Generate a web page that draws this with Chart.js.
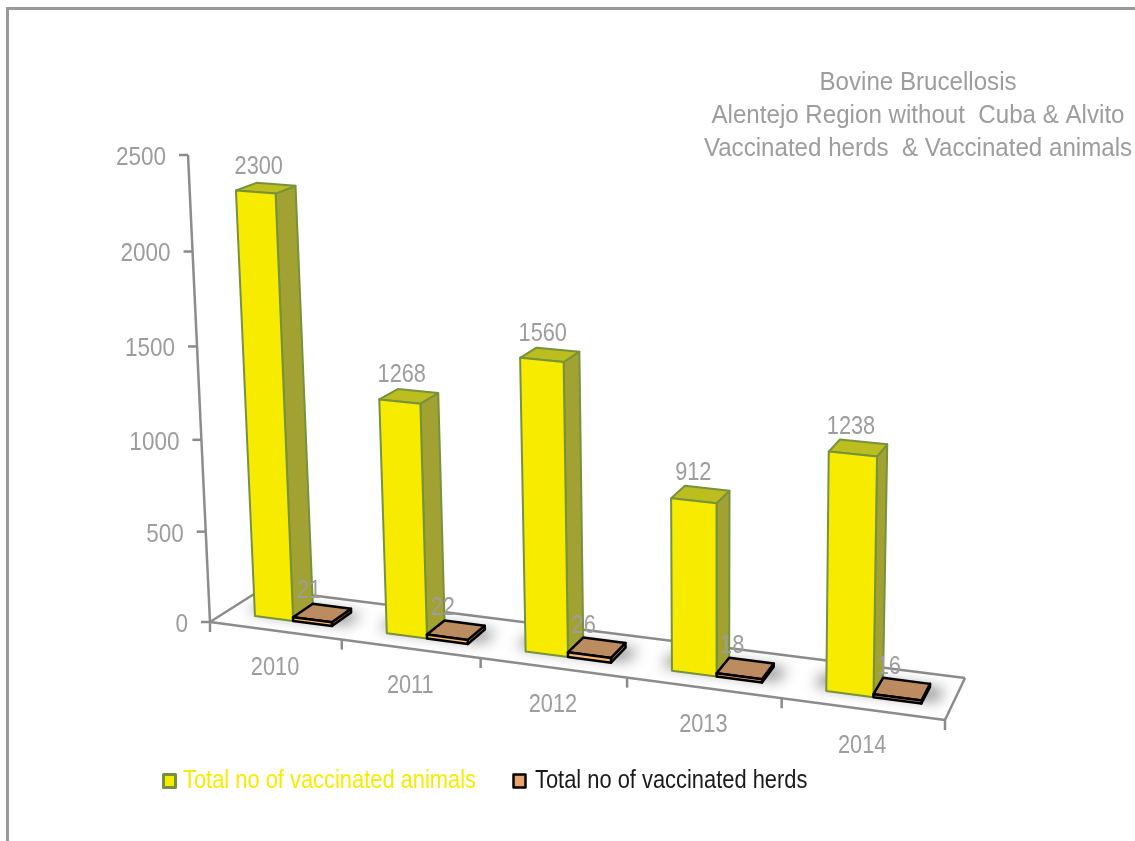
<!DOCTYPE html>
<html>
<head>
<meta charset="utf-8">
<script src="https://cdn.jsdelivr.net/npm/chart.js@4"></script>
<style>
  html, body { margin: 0; padding: 0; background: #fff; }
  canvas { display: block; }
</style>
</head>
<body>
<canvas id="main-chart" width="1135" height="841"></canvas>
<script>
const years = ['2010', '2011', '2012', '2013', '2014'];
const vaccinatedAnimals = [2300, 1268, 1560, 912, 1238];
const vaccinatedHerds = [21, 22, 26, 18, 16];
const seriesNames = ['Total no of vaccinated animals', 'Total no of vaccinated herds'];
const titleLines = ['Bovine Brucellosis', 'Alentejo Region without  Cuba & Alvito', 'Vaccinated herds  & Vaccinated animals'];

const GREY = '#9d9d9f';
const AXIS = '#8c8c8c';
const FONT = '25px "Liberation Sans", Arial, sans-serif';

const barStyles = [
  { front: '#f7ec00', side: '#a2a232', top: '#bcbd1f', line: '#76923c', width: 2 },
  { front: '#fbb971', side: '#b98a5f', top: '#bd8b60', line: '#000', width: 2.5 }
];

// corners of the tilted box: bottom left, bottom right, top right, top left
const frontPlane = [[210, 622], [945, 720], [955, 212], [188, 155]];
const backPlane = [[262, 589], [965, 678], [979, 190], [240, 137]];
const BAR_W0 = 0.3;
const BAR_W1 = 0.7;
const BAR_SHIFT = 0.005;
const X_WARP = 0.045;

function makeHomography(q) {
  const [p00, p10, p11, p01] = q;
  const dx1 = p10[0] - p11[0], dx2 = p01[0] - p11[0], sx = p00[0] - p10[0] + p11[0] - p01[0];
  const dy1 = p10[1] - p11[1], dy2 = p01[1] - p11[1], sy = p00[1] - p10[1] + p11[1] - p01[1];
  const den = dx1 * dy2 - dx2 * dy1;
  const g = (sx * dy2 - dx2 * sy) / den;
  const h = (dx1 * sy - sx * dy1) / den;
  const a = p10[0] - p00[0] + g * p10[0], b = p01[0] - p00[0] + h * p01[0];
  const d = p10[1] - p00[1] + g * p10[1], e = p01[1] - p00[1] + h * p01[1];
  return (s, t) => {
    const z = g * s + h * t + 1;
    return [(a * s + b * t + p00[0]) / z, (d * s + e * t + p00[1]) / z];
  };
}

const frontMap = makeHomography(frontPlane);
const backMap = makeHomography(backPlane);

function project(s, t, w) {
  const sw = s - X_WARP * s * (1 - s);
  const f = frontMap(sw, t), b = backMap(sw, t);
  return [f[0] + (b[0] - f[0]) * w, f[1] + (b[1] - f[1]) * w];
}

function poly(ctx, pts, fill, stroke, lw) {
  ctx.beginPath();
  pts.forEach((p, i) => i ? ctx.lineTo(p[0], p[1]) : ctx.moveTo(p[0], p[1]));
  ctx.closePath();
  if (fill) { ctx.fillStyle = fill; ctx.fill(); }
  if (stroke) { ctx.strokeStyle = stroke; ctx.lineWidth = lw; ctx.lineJoin = 'round'; ctx.stroke(); }
}

function seg(ctx, a, b, color, lw) {
  ctx.beginPath();
  ctx.moveTo(a[0], a[1]);
  ctx.lineTo(b[0], b[1]);
  ctx.strokeStyle = color;
  ctx.lineWidth = lw;
  ctx.stroke();
}

// the source type is condensed, so squeeze the text sideways
function text(ctx, str, x, y, color, align, squeeze) {
  ctx.save();
  ctx.translate(x, y + 2);
  ctx.scale(squeeze || 0.87, 1);
  ctx.font = FONT;
  ctx.fillStyle = color;
  ctx.textAlign = align || 'center';
  ctx.textBaseline = 'middle';
  ctx.fillText(str, 0, 0);
  ctx.restore();
}

const tiltedBars = {
  id: 'tiltedBars',
  beforeDatasetsDraw(chart) {
    const { ctx, chartArea: area, scales } = chart;
    const toS = px => (px - area.left) / (area.right - area.left);
    const toT = px => (area.bottom - px) / (area.bottom - area.top);

    ctx.save();

    // frame
    ctx.fillStyle = '#999a9c';
    ctx.fillRect(6, 7, 1129, 3);
    ctx.fillRect(6, 7, 3, 834);

    // floor
    seg(ctx, project(0, 0, 0), project(0, 0, 1), AXIS, 2.5);
    seg(ctx, project(0, 0, 1), project(1, 0, 1), AXIS, 2.5);
    seg(ctx, project(1, 0, 1), project(1, 0, 0), AXIS, 2.5);
    seg(ctx, project(0, 0, 0), project(1, 0, 0), AXIS, 2.5);

    // value axis
    seg(ctx, project(0, 0, 0), project(0, 1, 0), AXIS, 2.5);
    scales.y.ticks.forEach(tick => {
      const p = project(0, toT(scales.y.getPixelForValue(tick.value)), 0);
      seg(ctx, p, [p[0] - 9, p[1]], AXIS, 2.5);
      text(ctx, String(tick.value), p[0] - 22, p[1] + 1, GREY, 'right', 0.9);
    });

    // category axis
    years.forEach((year, i) => {
      const edge = project(toS(scales.x.getPixelForValue(i + 0.5)), 0, 0);
      seg(ctx, edge, [edge[0], edge[1] + 10], AXIS, 2.5);
      if (i === 0) {
        const start = project(0, 0, 0);
        seg(ctx, start, [start[0], start[1] + 10], AXIS, 2.5);
      }
      const mid = project(toS(scales.x.getPixelForValue(i)), 0, 0);
      text(ctx, year, mid[0], mid[1] + 35, GREY);
    });

    const metas = chart.data.datasets.map((_, i) => chart.getDatasetMeta(i));

    // soft shadows on the floor
    ctx.save();
    ctx.filter = 'blur(7px)';
    years.forEach((_, i) => {
      const a = metas[0].data[i], b = metas[1].data[i];
      const s0 = toS(a.x - a.width / 2) + BAR_SHIFT, s1 = toS(b.x + b.width / 2) + BAR_SHIFT, pad = 0.018;
      poly(ctx, [project(s0 - pad, 0, BAR_W0 + 0.08), project(s1 + pad, 0, BAR_W0 + 0.08),
        project(s1 + pad, 0, BAR_W1), project(s0 - pad, 0, BAR_W1)], 'rgba(0,0,0,0.42)');
    });
    ctx.restore();

    // bars, left to right
    const labels = [];
    years.forEach((_, i) => {
      metas.forEach((meta, k) => {
        const el = meta.data[i], st = barStyles[k];
        const s0 = toS(el.x - el.width / 2) + BAR_SHIFT, s1 = toS(el.x + el.width / 2) + BAR_SHIFT, t = toT(el.y);
        const fl = project(s0, 0, BAR_W0), fr = project(s1, 0, BAR_W0), br = project(s1, 0, BAR_W1);
        const tfl = project(s0, t, BAR_W0), tfr = project(s1, t, BAR_W0);
        const tbr = project(s1, t, BAR_W1), tbl = project(s0, t, BAR_W1);
        poly(ctx, [fr, br, tbr, tfr], st.side, st.line, st.width);
        poly(ctx, [tfl, tfr, tbr, tbl], st.top, st.line, st.width);
        poly(ctx, [fl, fr, tfr, tfl], st.front, st.line, st.width);
        const cx = (tfl[0] + tbr[0]) / 2, cy = (tfl[1] + tbr[1]) / 2;
        const value = chart.data.datasets[k].data[i];
        labels.push([String(value), cx + (k ? -13 : -7), cy + (k ? -24 : -23)]);
      });
    });
    labels.forEach(l => text(ctx, l[0], l[1], l[2], GREY));

    // title
    titleLines.forEach((line, i) => text(ctx, line, 918, 81 + i * 33, GREY, 'center', 0.965));

    // legend
    poly(ctx, [[163.5, 774.5], [175.5, 774.5], [175.5, 787.5], [163.5, 787.5]], barStyles[0].front, barStyles[0].line, 3);
    text(ctx, seriesNames[0], 183, 779, barStyles[0].front, 'left', 0.875);
    poly(ctx, [[513.5, 774.5], [525.5, 774.5], [525.5, 787.5], [513.5, 787.5]], '#e8a46a', '#000', 2.5);
    text(ctx, seriesNames[1], 535, 779, '#1a1a1a', 'left', 0.875);

    ctx.restore();
    return false;
  }
};

document.addEventListener('DOMContentLoaded', () => {
  const canvas1 = document.getElementById('main-chart');
  new Chart(canvas1, {
    type: 'bar',
    data: {
      labels: years,
      datasets: [
        { label: seriesNames[0], data: vaccinatedAnimals, categoryPercentage: 0.59, barPercentage: 1 },
        { label: seriesNames[1], data: vaccinatedHerds, categoryPercentage: 0.59, barPercentage: 1 }
      ]
    },
    options: {
      responsive: false,
      animation: false,
      plugins: {
        legend: { display: false },
        title: { display: false },
        tooltip: { enabled: false }
      },
      scales: {
        x: { display: false },
        y: { display: false, min: 0, max: 2500, ticks: { stepSize: 500 } }
      }
    },
    plugins: [tiltedBars]
  });
});
</script>
</body>
</html>
